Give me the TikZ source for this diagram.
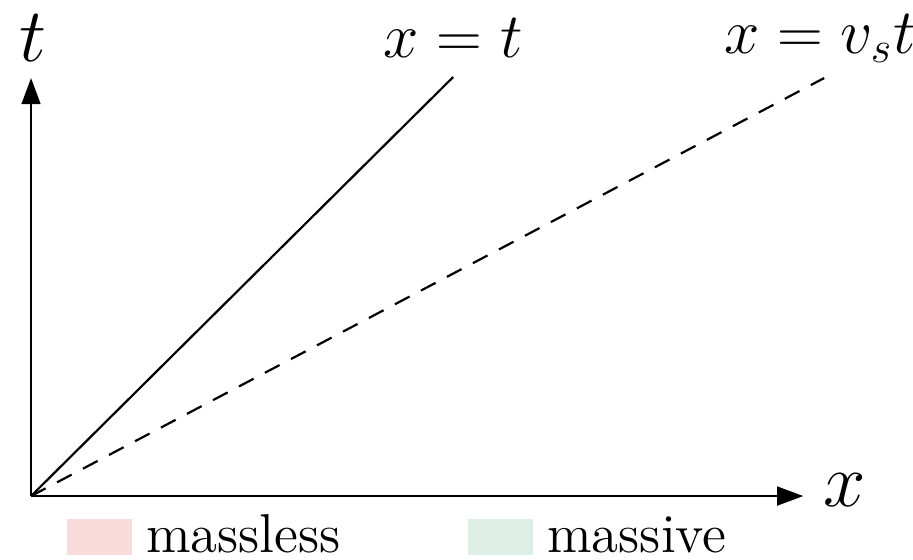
\documentclass[tikz,border=0pt]{standalone}
\usetikzlibrary{arrows.meta}
\definecolor{masslesscol}{RGB}{249,219,219}
\definecolor{massivecol}{RGB}{221,238,228}
\begin{document}
\begin{tikzpicture}[line width=0.6pt,
        axis/.style={-{Triangle[length=0.25cm,width=0.18cm]}},
        swatch/.style={inner sep=0pt,minimum width=0.62cm,minimum height=0.345cm},
        leg/.style={anchor=base west, inner sep=0pt, font=\fontsize{14.9}{18}\selectfont},
        linelab/.style={font=\fontsize{16.7}{20}\selectfont}]
        \useasboundingbox (-0.297,-0.603) rectangle (8.44,4.747);
        \coordinate (O) at (0,0);
        \coordinate (xend) at (7.39,0);
        \coordinate (tend) at (0,4.0);
        \coordinate (light) at (4.04,4.01);
        \coordinate (sound) at (7.59,4.0);
        \draw[axis] (O) -- (xend);
        \draw[axis] (O) -- (tend);
        \draw (O) -- (light);
        \draw[dashed, dash pattern=on 4.5pt off 3.5pt] (O) -- (sound);
        \node (tlab) at (0.02,4.38) {\huge $t$};
        \node (xlab) at (7.79,0.06) {\huge $x$};
        \node[linelab] (lightlab) at (4.04,4.38) {$x=t$};
        \node[linelab] (soundlab) at (7.55,4.38) {$x=v_st$};
        % legend
        \node[swatch, fill=masslesscol, anchor=north west] (mlsq) at (0.335,-0.211) {};
        \node[leg] (mltext) at (1.09,-0.536) {massless};
        \node[swatch, fill=massivecol, anchor=north west] (mvsq) at (4.17,-0.211) {};
        \node[leg] (mvtext) at (4.93,-0.536) {massive};
    \end{tikzpicture}
\end{document}
